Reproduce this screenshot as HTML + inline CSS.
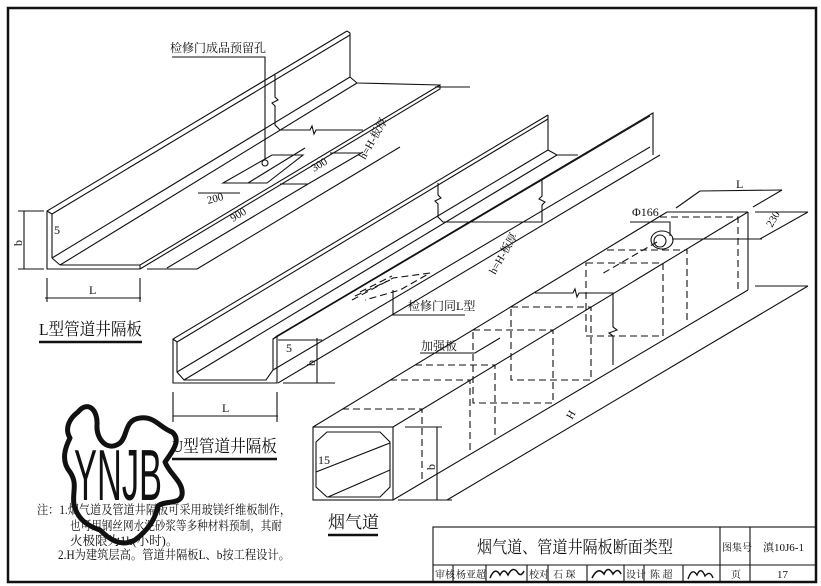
<!DOCTYPE html>
<html><head><meta charset="utf-8"><style>
html,body{margin:0;padding:0;background:#fff;}
svg{display:block;}
text{font-family:"Liberation Serif","Noto Serif CJK SC",serif;fill:#111;}
.c{font-family:"Liberation Serif","Noto Serif CJK SC","Noto Sans CJK SC",serif;}
</style></head><body>
<svg width="821" height="586" viewBox="0 0 821 586" xmlns="http://www.w3.org/2000/svg">
<rect width="821" height="586" fill="#fff"/>
<rect x="8" y="8" width="808" height="574" fill="none" stroke="#111" stroke-width="2.5"/>

<g fill="none" stroke="#111" stroke-width="1.1">
<!-- L shape -->
<polyline points="347,31 47,211 47,269 140,269 140,265 440,85 440,89 140,269"/>
<line x1="52" y1="214" x2="350" y2="35"/>
<line x1="47" y1="211" x2="52" y2="214"/>
<line x1="52" y1="214" x2="52" y2="258"/>
<line x1="52" y1="258" x2="60" y2="265"/>
<line x1="60" y1="265" x2="140" y2="265"/>
<line x1="60" y1="265" x2="357" y2="83"/>
<line x1="52" y1="258" x2="350" y2="77"/>
<polyline points="347,31 350,33 350,77 357,83 440,85"/>
<!-- L break -->
<polyline points="275,75 275,97 278,100 272,103 275,106 275,125 280,130 310,130 312,126 314,134 316,130 363,130"/>
<!-- hole -->
<polygon points="223,183 272,155 303,155 267,183"/>
<line x1="305" y1="148" x2="248" y2="183"/>
<circle cx="265" cy="163" r="3"/>
<polyline points="172,57 265,57 265,160"/>
<!-- L dims -->
<line x1="24" y1="211" x2="24" y2="269"/><line x1="18" y1="211" x2="44" y2="211"/><line x1="18" y1="269" x2="44" y2="269"/>
<line x1="45" y1="298" x2="141" y2="298"/><line x1="47" y1="278" x2="47" y2="302"/><line x1="140" y1="278" x2="140" y2="302"/>
<line x1="147" y1="269" x2="197" y2="269"/>
<line x1="167" y1="268" x2="308" y2="184"/>
<line x1="197" y1="269" x2="400" y2="147"/>
<line x1="280" y1="184" x2="308" y2="184"/>
<line x1="308" y1="184" x2="363" y2="152"/>
<line x1="198" y1="193" x2="240" y2="193"/>
<line x1="330" y1="153" x2="362" y2="153"/>
<line x1="435" y1="87" x2="470" y2="87"/>

<!-- U shape -->
<polyline points="548,115 173,339 173,383 277,383 277,336 653,113 653,152"/>
<line x1="177" y1="342" x2="548" y2="119"/>
<line x1="173" y1="339" x2="177" y2="342"/>
<polyline points="177,342 177,372 184,380 266,380 273,370 273,339 277,336"/>
<line x1="184" y1="380" x2="557" y2="155"/>
<line x1="177" y1="372" x2="548" y2="150"/>
<line x1="273" y1="339" x2="650" y2="116"/>
<line x1="273" y1="370" x2="650" y2="147"/>
<line x1="278" y1="383" x2="660" y2="155"/>
<polyline points="548,115 548,150 557,155 578,155"/>
<line x1="653" y1="152" x2="653" y2="155"/>
<polyline points="438,183 438,195 441,198 435,201 438,204 438,217 443,222 542,222 542,205 545,202 539,199 542,196 542,180"/>
<!-- U inspection dashed -->
<g stroke-dasharray="7,4">
<polyline points="352,300 393,278 430,273 400,290 365,300"/>
<line x1="355" y1="296" x2="390" y2="280"/>
<line x1="360" y1="292" x2="392" y2="276"/>
</g>
<polyline points="393,290 393,315 465,315"/>
<!-- U dims -->
<line x1="173" y1="416" x2="278" y2="416"/><line x1="173" y1="392" x2="173" y2="422"/><line x1="277" y1="392" x2="277" y2="422"/>
<line x1="317" y1="338" x2="317" y2="383"/><line x1="278" y1="340" x2="322" y2="340"/><line x1="283" y1="383" x2="335" y2="383"/>

<!-- flue box -->
<rect x="313" y="427" width="80" height="73"/>
<polygon points="327,432 380,432 390,442 390,487 380,497 327,497 316,487 316,442"/>
<line x1="316" y1="472" x2="390" y2="443"/>
<line x1="328" y1="497" x2="390" y2="470"/>
<line x1="313" y1="427" x2="667" y2="212"/>
<line x1="393" y1="427" x2="748" y2="212"/>
<line x1="667" y1="212" x2="748" y2="212"/>
<line x1="748" y1="212" x2="748" y2="290"/>
<line x1="393" y1="500" x2="748" y2="290"/>
<g stroke-dasharray="7,4">
<polyline points="342,409 422,409 422,482"/>
<polyline points="390,380 470,380 470,453"/>
<polyline points="415,365 495,365 495,437"/>
<rect x="473" y="330" width="80" height="73"/>
<rect x="511" y="307" width="80" height="73"/>
<rect x="586" y="263" width="77" height="73"/>
<polyline points="607,250 687,250 687,322"/>
<polyline points="660,217 738,217 738,290"/>
<line x1="657" y1="242" x2="600" y2="275"/>
</g>
<polyline points="535,293 573,293 575,289 577,297 579,293 613,293 613,327 617,330 609,333 613,336 613,365"/>
<ellipse cx="662" cy="240" rx="11" ry="9"/>
<ellipse cx="660" cy="241" rx="6" ry="6"/>
<polyline points="630,222 670,222 670,236"/>
<line x1="672" y1="239" x2="762" y2="239"/>
<line x1="700" y1="191" x2="782" y2="190"/>
<line x1="676" y1="208" x2="700" y2="191"/><line x1="753" y1="207" x2="782" y2="190"/>
<line x1="755" y1="212" x2="808" y2="212"/>
<line x1="760" y1="239" x2="808" y2="212"/>
<line x1="755" y1="286" x2="808" y2="286"/>
<line x1="447" y1="500" x2="808" y2="286"/>
<line x1="437" y1="427" x2="437" y2="500"/>
<line x1="405" y1="427" x2="442" y2="427"/><line x1="398" y1="500" x2="452" y2="500"/>
<polyline points="420,353 475,353 500,338"/>

<!-- title block -->
<rect x="433" y="527" width="383" height="55"/>
<line x1="433" y1="565" x2="816" y2="565"/>
<line x1="720" y1="527" x2="720" y2="582"/>
<line x1="750" y1="527" x2="750" y2="582"/>
<line x1="453" y1="565" x2="453" y2="582"/>
<line x1="486" y1="565" x2="486" y2="582"/>
<line x1="527" y1="565" x2="527" y2="582"/>
<line x1="548" y1="565" x2="548" y2="582"/>
<line x1="587" y1="565" x2="587" y2="582"/>
<line x1="624" y1="565" x2="624" y2="582"/>
<line x1="644" y1="565" x2="644" y2="582"/>
<line x1="683" y1="565" x2="683" y2="582"/>
<!-- signatures -->
<path d="M490,578 q5,-12 10,-3 q4,-8 8,0 q5,-10 10,-2 q3,4 6,-2" stroke-width="1.5"/>
<path d="M592,578 q6,-12 12,-4 q4,-9 9,0 q5,-7 8,0" stroke-width="1.6"/>
<path d="M688,579 q4,-12 9,-4 q4,-9 8,1 q5,-6 8,2" stroke-width="1.4"/>
</g>

<!-- underlines -->
<g stroke="#111" stroke-width="2.6">
<line x1="39" y1="342" x2="142" y2="342"/>
<line x1="172" y1="459" x2="277" y2="459"/>
<line x1="328" y1="535" x2="378" y2="535"/>
</g>

<!-- logo -->
<path d="M78,412 C88,400 98,410 97,425 C96,440 108,452 120,443 C128,436 124,420 140,418 C155,416 160,428 172,432 C182,440 172,452 165,462 C170,475 184,482 182,495 C180,505 165,500 158,506 C155,520 148,530 135,540 C120,548 108,538 100,530 C88,526 78,520 74,505 C72,492 78,484 70,472 C60,460 66,446 70,438 C64,428 70,418 78,412 Z" fill="none" stroke="#111" stroke-width="5" stroke-linejoin="round"/>
<text x="74" y="500" font-size="72" textLength="88" lengthAdjust="spacingAndGlyphs" style="font-family:'Liberation Sans Narrow','Liberation Sans',sans-serif">YNJB</text>

<!-- texts -->
<g class="c">
<text x="170" y="52" font-size="12">检修门成品预留孔</text>
<text x="39" y="335" font-size="17" textLength="103" lengthAdjust="spacingAndGlyphs">L型管道井隔板</text>
<text x="172" y="452" font-size="17" textLength="105" lengthAdjust="spacingAndGlyphs">U型管道井隔板</text>
<text x="328" y="528" font-size="17">烟气道</text>
<text x="408" y="310" font-size="12">检修门同L型</text>
<text x="421" y="350" font-size="12">加强板</text>
<text x="632" y="216" font-size="12">Φ166</text>
<text x="736" y="188" font-size="12">L</text>
<text x="89" y="294" font-size="12">L</text>
<text x="222" y="412" font-size="12">L</text>
<text x="54" y="234" font-size="12">5</text>
<text x="286" y="352" font-size="12">5</text>
<text x="318" y="464" font-size="12">15</text>
<text transform="translate(22,246) rotate(-90)" font-size="12">b</text>
<text transform="translate(315,366) rotate(-90)" font-size="12">b</text>
<text transform="translate(435,470) rotate(-90)" font-size="12">b</text>
<text transform="translate(208,204) rotate(-15)" font-size="11">200</text>
<text transform="translate(233,222) rotate(-31)" font-size="11">900</text>
<text transform="translate(314,172) rotate(-31)" font-size="11">300</text>
<text transform="translate(365,160) rotate(-60)" font-size="11">h=H-板厚</text>
<text transform="translate(495,275) rotate(-60)" font-size="11">h=H-板厚</text>
<text transform="translate(572,420) rotate(-60)" font-size="11">H</text>
<text transform="translate(772,228) rotate(-60)" font-size="11">230</text>
<text x="37" y="514" font-size="12.5" textLength="254" lengthAdjust="spacingAndGlyphs">注：1.烟气道及管道井隔板可采用玻镁纤维板制作，</text>
<text x="70" y="530" font-size="12.5" textLength="212" lengthAdjust="spacingAndGlyphs">也可用钢丝网水泥砂浆等多种材料预制，其耐</text>
<text x="70" y="545" font-size="12.5">火极限为1h(小时)。</text>
<text x="58" y="559" font-size="12.5" textLength="232" lengthAdjust="spacingAndGlyphs">2.H为建筑层高。管道井隔板L、b按工程设计。</text>
<text x="477" y="553" font-size="17" textLength="196" lengthAdjust="spacingAndGlyphs">烟气道、管道井隔板断面类型</text>
<text x="722" y="551" font-size="10">图集号</text>
<text x="763" y="551" font-size="11">滇10J6-1</text>
<text x="435" y="578" font-size="10">审核</text>
<text x="456" y="578" font-size="10">杨亚超</text>
<text x="529" y="578" font-size="10">校对</text>
<text x="553" y="578" font-size="10">石 琛</text>
<text x="626" y="578" font-size="10">设计</text>
<text x="650" y="578" font-size="10">陈 超</text>
<text x="731" y="578" font-size="10">页</text>
<text x="777" y="578" font-size="11">17</text>
</g>
</svg>
</body></html>
